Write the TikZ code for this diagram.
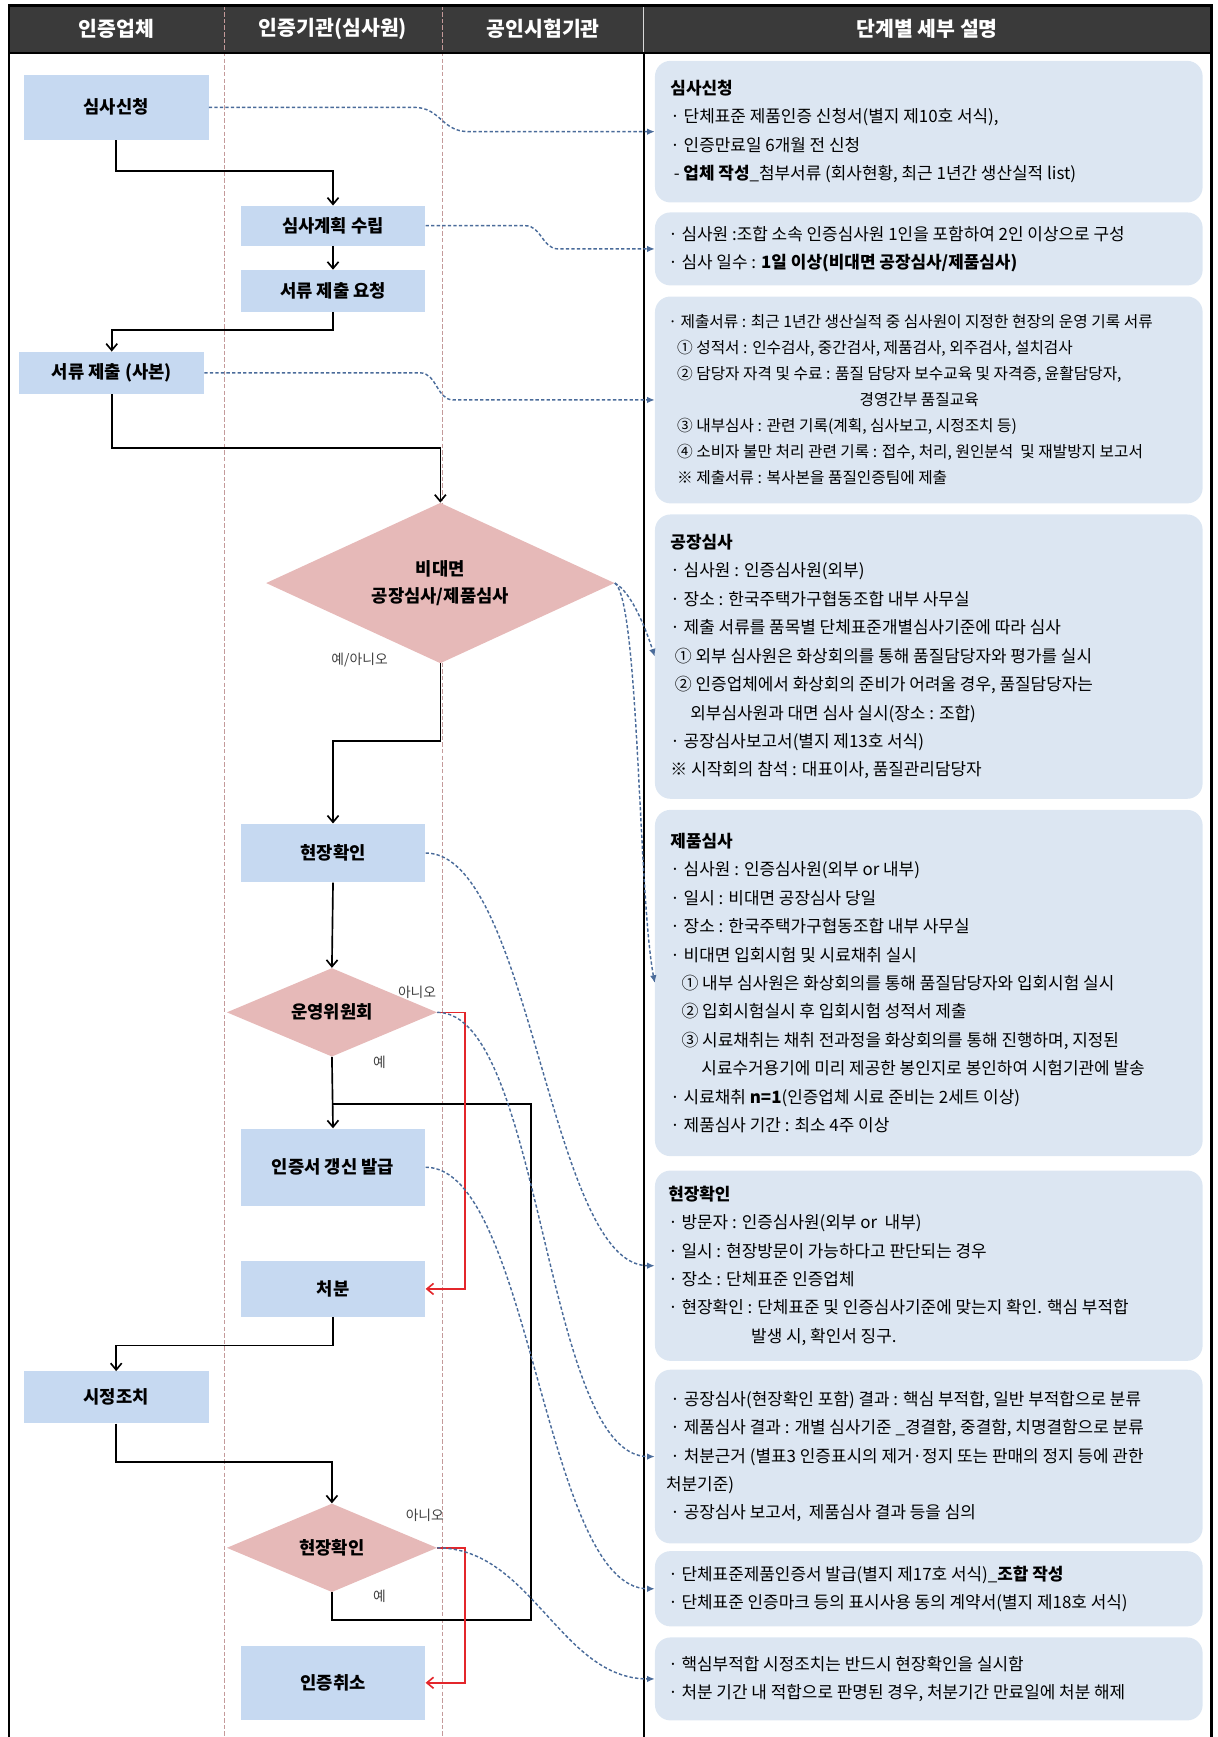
\documentclass[tikz,border=0pt]{standalone}
\usepackage{fontspec}
\setmainfont{Noto Sans CJK KR}
\usetikzlibrary{shapes.geometric,arrows.meta,calc}
\definecolor{hdr}{HTML}{3A3A3A}
\definecolor{lblue}{HTML}{C6D9F1}
\definecolor{rblue}{HTML}{DCE6F2}
\definecolor{pinkd}{HTML}{E6B9B8}
\definecolor{infoc}{HTML}{4A6B9A}
\definecolor{noc}{HTML}{E3262B}
\definecolor{lanec}{HTML}{C49A9A}
\begin{document}
\begin{tikzpicture}[x=1pt,y=-1pt,
  lbox/.style={rectangle, fill=lblue, minimum width=167pt, inner sep=0pt, font=\fontsize{16}{19}\selectfont\bfseries},
  dia/.style={diamond, fill=pinkd, inner sep=0pt, font=\fontsize{16}{19}\selectfont\bfseries, align=center},
  rbox/.style={rectangle, rounded corners=14pt, fill=rblue, minimum width=495pt, inner sep=0pt},
  rtext/.style={anchor=west, inner sep=0pt, align=left, font=\fontsize{15.3}{25.7}\selectfont},
  hd/.style={text=white, font=\fontsize{18.5}{22}\selectfont\bfseries},
  lbl/.style={font=\fontsize{12.5}{15}\selectfont, text=black!75, inner sep=0pt},
  flow/.style={line width=1.5pt, -{Straight Barb[length=6pt,width=10pt]}},
  plainflow/.style={line width=1.5pt},
  redflow/.style={line width=1.5pt, draw=noc, -{Straight Barb[length=6pt,width=10pt]}},
  infoflow/.style={draw=infoc, line width=1.3pt, dash pattern=on 3pt off 2pt, -{Latex[length=7pt,width=6pt]}},
  lane/.style={draw=lanec, line width=0.8pt, dash pattern=on 4pt off 2pt}
]
\useasboundingbox (0,0) rectangle (1100,1570);
% header and frame
\fill[hdr] (8,5) rectangle (1095,48);
\draw[lane] (203,5) -- (203,1570);
\draw[lane] (400,5) -- (400,1570);
\draw[black!15, line width=1pt] (582,5) -- (582,48);
\draw[line width=1.5pt] (582,48) -- (582,1570);
\draw[line width=2pt] (8,48) -- (1095,48);
\draw[line width=2pt] (8,1570) -- (8,5) -- (1095,5) -- (1095,1570);
\node[hd] (h1) at (105,26) {인증업체};
\node[hd] (h2) at (301,26) {인증기관(심사원)};
\node[hd] (h3) at (491,26) {공인시험기관};
\node[hd] (h4) at (838,26) {단계별 세부 설명};

% flow nodes
\node[lbox, minimum height=59pt] (b1) at (105,97) {심사신청};
\node[lbox, minimum height=36pt] (b2) at (301,204) {심사계획 수립};
\node[lbox, minimum height=38pt] (b3) at (301,263) {서류 제출 요청};
\node[lbox, minimum height=38pt] (b4) at (101,337) {서류 제출 (사본)};
\node[dia, minimum width=315pt, minimum height=145pt, aspect=2.2] (d1) at (398,527) {비대면\\[6pt]공장심사/제품심사};
\node[lbox, minimum height=53pt] (b5) at (301,771) {현장확인};
\node[dia, minimum width=190pt, minimum height=80pt, aspect=2.4] (d2) at (300,915) {운영위원회};
\node[lbox, minimum height=70pt] (b6) at (301,1055) {인증서 갱신 발급};
\node[lbox, minimum height=50pt] (b7) at (301,1165) {처분};
\node[lbox, minimum height=47pt] (b8) at (105,1263) {시정조치};
\node[dia, minimum width=190pt, minimum height=80pt, aspect=2.4] (d3) at (300,1399) {현장확인};
\node[lbox, minimum height=67pt] (b9) at (301,1521) {인증취소};

% labels
\node[lbl] (l1) at (325,597) {예/아니오};
\node[lbl] (l2) at (377,897) {아니오};
\node[lbl] (l3) at (343,960) {예};
\node[lbl] (l4) at (384,1370) {아니오};
\node[lbl] (l5) at (343,1443) {예};

% description boxes
\node[rbox, minimum height=128pt] (r1) at (839.5,119) {};
\node[rbox, minimum height=66pt] (r2) at (839.5,225) {};
\node[rbox, minimum height=187pt] (r3) at (839.5,361.5) {};
\node[rbox, minimum height=257pt] (r4) at (839.5,593.5) {};
\node[rbox, minimum height=313pt] (r5) at (839.5,888.5) {};
\node[rbox, minimum height=172pt] (r6) at (839.5,1144) {};
\node[rbox, minimum height=157pt] (r7) at (839.5,1316.5) {};
\node[rbox, minimum height=68pt] (r8) at (839.5,1436) {};
\node[rbox, minimum height=75pt] (r9) at (839.5,1517.5) {};

\node[rtext] (r1t) at ([xshift=14pt]r1.west) {\textbf{심사신청}\\
· 단체표준 제품인증 신청서(별지 제10호 서식),\\
· 인증만료일 6개월 전 신청\\
\hspace*{3pt}- \textbf{업체 작성}\_첨부서류 (회사현황, 최근 1년간 생산실적 list)};
\node[rtext] (r2t) at ([xshift=12pt]r2.west) {· 심사원 :조합 소속 인증심사원 1인을 포함하여 2인 이상으로 구성\\
· 심사 일수 : \textbf{1일 이상(비대면 공장심사/제품심사)}};
\node[rtext, font=\fontsize{14.2}{23.5}\selectfont] (r3t) at ([xshift=12pt]r3.west) {· 제출서류 : 최근 1년간 생산실적 중 심사원이 지정한 현장의 운영 기록 서류\\
\hspace*{8pt}① 성적서 : 인수검사, 중간검사, 제품검사, 외주검사, 설치검사\\
\hspace*{8pt}② 담당자 자격 및 수료 : 품질 담당자 보수교육 및 자격증, 윤활담당자,\\
\hspace*{173pt}경영간부 품질교육\\
\hspace*{8pt}③ 내부심사 : 관련 기록(계획, 심사보고, 시정조치 등)\\
\hspace*{8pt}④ 소비자 불만 처리 관련 기록 : 접수, 처리, 원인분석 \ 및 재발방지 보고서\\
\hspace*{8pt}※ 제출서류 : 복사본을 품질인증팀에 제출};
\node[rtext] (r4t) at ([xshift=14pt]r4.west) {\textbf{공장심사}\\
· 심사원 : 인증심사원(외부)\\
· 장소 : 한국주택가구협동조합 내부 사무실\\
· 제출 서류를 품목별 단체표준개별심사기준에 따라 심사\\
\hspace*{4pt}① 외부 심사원은 화상회의를 통해 품질담당자와 평가를 실시\\
\hspace*{4pt}② 인증업체에서 화상회의 준비가 어려울 경우, 품질담당자는\\
\hspace*{18pt}외부심사원과 대면 심사 실시(장소 : 조합)\\
· 공장심사보고서(별지 제13호 서식)\\
※ 시작회의 참석 : 대표이사, 품질관리담당자};
\node[rtext] (r5t) at ([xshift=14pt]r5.west) {\textbf{제품심사}\\
· 심사원 : 인증심사원(외부 or 내부)\\
· 일시 : 비대면 공장심사 당일\\
· 장소 : 한국주택가구협동조합 내부 사무실\\
· 비대면 입회시험 및 시료채취 실시\\
\hspace*{10pt}① 내부 심사원은 화상회의를 통해 품질담당자와 입회시험 실시\\
\hspace*{10pt}② 입회시험실시 후 입회시험 성적서 제출\\
\hspace*{10pt}③ 시료채취는 채취 전과정을 화상회의를 통해 진행하며, 지정된\\
\hspace*{28pt}시료수거용기에 미리 제공한 봉인지로 봉인하여 시험기관에 발송\\
· 시료채취 \textbf{n=1}(인증업체 시료 준비는 2세트 이상)\\
· 제품심사 기간 : 최소 4주 이상};
\node[rtext] (r6t) at ([xshift=12pt]r6.west) {\textbf{현장확인}\\
· 방문자 : 인증심사원(외부 or \ 내부)\\
· 일시 : 현장방문이 가능하다고 판단되는 경우\\
· 장소 : 단체표준 인증업체\\
· 현장확인 : 단체표준 및 인증심사기준에 맞는지 확인. 핵심 부적합\\
\hspace*{75pt}발생 시, 확인서 징구.};
\node[rtext] (r7t) at ([xshift=10pt]r7.west) {\hspace*{4pt}· 공장심사(현장확인 포함) 결과 : 핵심 부적합, 일반 부적합으로 분류\\
\hspace*{4pt}· 제품심사 결과 : 개별 심사기준 \_경결함, 중결함, 치명결함으로 분류\\
\hspace*{4pt}· 처분근거 (별표3 인증표시의 제거·정지 또는 판매의 정지 등에 관한\\
처분기준)\\
\hspace*{4pt}· 공장심사 보고서, \ 제품심사 결과 등을 심의};
\node[rtext] (r8t) at ([xshift=12pt]r8.west) {· 단체표준제품인증서 발급(별지 제17호 서식)\_\textbf{조합 작성}\\
· 단체표준 인증마크 등의 표시사용 동의 계약서(별지 제18호 서식)};
\node[rtext] (r9t) at ([xshift=12pt]r9.west) {· 핵심부적합 시정조치는 반드시 현장확인을 실시함\\
· 처분 기간 내 적합으로 판명된 경우, 처분기간 만료일에 처분 해제};

% flow connectors
\coordinate (jr) at (480,998);
\coordinate (jl) at (300,998);
\draw[flow] (b1.south) -- ++(0,28) -| (b2.north);
\draw[flow] (b2.south) -- (b3.north);
\draw[flow] (b3.south) -- ++(0,16) -| (b4.north);
\draw[flow] (b4.south) -- ++(0,49) -| (d1.north);
\draw[flow] (d1.south) -- ++(0,70) -| (b5.north);
\draw[flow] (b5.south) -- (d2.north);
\draw[flow] (d2.south) -- (b6.north);
\draw[plainflow] (d3.south) -- ++(0,25) -| (jr) -- (jl);
\draw[redflow] (d2.east) -- ++(25,0) |- (b7.east);
\draw[redflow] (d3.east) -- ++(25,0) |- (b9.east);
\draw[flow] (b7.south) -- ++(0,26) -| (b8.north);
\draw[flow] (b8.south) -- ++(0,35) -| (d3.north);

% info connectors
\draw[infoflow] (b1.east) -- ++(185,0) .. controls +(25,0) and +(-25,0) .. ++(50,22) -- (r1.west);
\draw[infoflow] (b2.east) -- ++(90,0) .. controls +(15,0) and +(-15,0) .. ++(30,21) -- (r2.west);
\draw[infoflow] (b4.east) -- ++(195,0) .. controls +(15,0) and +(-15,0) .. ++(30,24.5) -- (r3.west);
\draw[infoflow] (d1.east) .. controls +(15,8) and +(-8,-25) .. (r4.west);
\draw[infoflow] (d1.east) .. controls +(22,15) and +(-15,-80) .. (r5.west);
\draw[infoflow] (b5.east) .. controls +(95,0) and +(-95,0) .. (r6.west);
\draw[infoflow] (d2.east) .. controls +(95,0) and +(-100,0) .. (r7.west);
\draw[infoflow] (b6.east) .. controls +(95,0) and +(-100,0) .. (r8.west);
\draw[infoflow] (d3.east) .. controls +(85,0) and +(-85,0) .. (r9.west);
\end{tikzpicture}
\end{document}
